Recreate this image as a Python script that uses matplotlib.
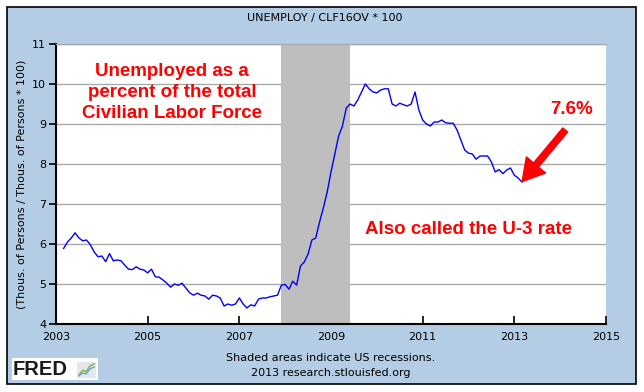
import numpy as np
import matplotlib
matplotlib.use('Agg')
import matplotlib.pyplot as plt
from matplotlib.patches import Rectangle
from matplotlib.lines import Line2D

# 失業率 (UNEMPLOY / CLF16OV * 100) 月次, 2003年3月 - 2013年3月
start_year = 2003
start_month = 3
v2003 = [5.89, 6.05, 6.15, 6.28, 6.15, 6.08, 6.10, 5.98, 5.80, 5.68]
v2004 = [5.70, 5.56, 5.76, 5.58, 5.60, 5.58, 5.47, 5.37, 5.36, 5.43, 5.37, 5.35]
v2005 = [5.28, 5.37, 5.18, 5.17, 5.10, 5.02, 4.92, 5.00, 4.97, 5.02, 4.90, 4.78]
v2006 = [4.72, 4.77, 4.72, 4.70, 4.62, 4.72, 4.70, 4.65, 4.45, 4.50, 4.47, 4.50]
v2007 = [4.65, 4.50, 4.40, 4.48, 4.45, 4.62, 4.65, 4.65, 4.68, 4.70, 4.72, 4.97]
v2008 = [4.99, 4.87, 5.07, 4.97, 5.45, 5.55, 5.75, 6.10, 6.15, 6.55, 6.90, 7.30]
v2009 = [7.80, 8.25, 8.70, 8.95, 9.40, 9.50, 9.45, 9.60, 9.80, 10.00, 9.88, 9.80]
v2010 = [9.78, 9.85, 9.88, 9.88, 9.50, 9.45, 9.52, 9.48, 9.45, 9.50, 9.80, 9.35]
v2011 = [9.10, 9.00, 8.95, 9.05, 9.05, 9.10, 9.03, 9.02, 9.02, 8.85, 8.60, 8.35]
v2012 = [8.27, 8.25, 8.12, 8.20, 8.20, 8.20, 8.05, 7.80, 7.86, 7.76, 7.85, 7.90]
v2013 = [7.72, 7.65, 7.55]
values = v2003 + v2004 + v2005 + v2006 + v2007 + v2008 + v2009 + v2010 + v2011 + v2012 + v2013

# 景気後退期 (2007年12月 - 2009年6月)
rec_start = 2007 + 11 / 12
rec_end = 2009 + 5 / 12

x_ticks = [2003, 2005, 2007, 2009, 2011, 2013, 2015]
y_ticks = [4, 5, 6, 7, 8, 9, 10, 11]

months = np.arange(len(values))
years = start_year + (start_month - 1 + months) / 12

W, H = 644, 392
bg = '#B4CDE4'

fig = plt.figure(figsize=(W / 100, H / 100), dpi=100)
fig.patch.set_facecolor('white')
fig.patches.append(Rectangle((7 / W, 1 - 384 / H), 629 / W, 377 / H,
                             transform=fig.transFigure, facecolor=bg,
                             edgecolor='black', lw=1.2, zorder=-10))

ax = fig.add_axes([56 / W, 1 - 324 / H, 550 / W, 280 / H])
ax.set_zorder(5)
ax.set_facecolor('white')
ax.set_axisbelow(True)
ax.grid(axis='y', color='#AAAAAA', lw=1)
ax.axvspan(rec_start, rec_end, color='#BEBEBE', lw=0, zorder=1)
ax.plot(years, values, color='#0000FF', lw=1.0, zorder=3)

ax.set_xlim(2003, 2015)
ax.set_ylim(4, 11)
ax.set_xticks(x_ticks)
ax.set_yticks(y_ticks)
ax.spines['right'].set_visible(False)
ax.spines['top'].set_color('#AAAAAA')
ax.spines['top'].set_linewidth(1.0)
for s in ['left', 'bottom']:
    ax.spines[s].set_linewidth(1.5)
ax.tick_params(axis='y', direction='out', length=5, width=1.2, pad=2, labelsize=8)
ax.tick_params(axis='x', direction='in', length=6, width=1.2, pad=6, labelsize=8)

# 赤い注釈
red_font = dict(color='#FF0000', fontweight='bold', family='Liberation Sans', fontsize=13.5)
ax.text(2005.53, 9.78, 'Unemployed as a\npercent of the total\nCivilian Labor Force',
        ha='center', va='center', linespacing=1.3, zorder=5, **red_font)
ax.text(2012.01, 6.35, 'Also called the U-3 rate', ha='center', va='center', zorder=5, **red_font)
ax.text(2014.24, 9.35, '7.6%', ha='center', va='center', zorder=5, **red_font)
ax.annotate('', xy=(2013.17, 7.56), xytext=(2014.11, 8.85),
            arrowprops=dict(arrowstyle='simple,head_length=1.3,head_width=1.5,tail_width=0.38',
                            color='#FF0000', mutation_scale=12, shrinkA=0, shrinkB=0),
            zorder=6)

# タイトル・ラベル
fig.text(325 / W, 1 - 18 / H, 'UNEMPLOY / CLF16OV * 100', ha='center', va='center', fontsize=8)
fig.text(22 / W, 1 - 184 / H, '(Thous. of Persons / Thous. of Persons * 100)',
         rotation=90, ha='center', va='center', fontsize=8)
fig.text(331 / W, 1 - 358 / H, 'Shaded areas indicate US recessions.',
         ha='center', va='center', fontsize=8)
fig.text(331 / W, 1 - 373 / H, '2013 research.stlouisfed.org',
         ha='center', va='center', fontsize=8)

# FREDロゴ
fig.patches.append(Rectangle((12 / W, 1 - 380 / H), 86 / W, 22 / H,
                             transform=fig.transFigure, facecolor='white',
                             edgecolor='none', zorder=1))
fig.text(13 / W, 1 - 369.5 / H, 'FRED', ha='left', va='center', fontsize=14.5,
         fontweight='heavy', family='Liberation Sans', color='#1A1A1A', zorder=3)
fig.patches.append(Rectangle((77 / W, 1 - 378 / H), 19 / W, 16 / H,
                             transform=fig.transFigure, facecolor='#E4E8EC',
                             edgecolor='none', zorder=2))
fig.lines.append(Line2D(np.array([79, 83, 86, 90, 94]) / W,
                        1 - np.array([375, 370, 372, 366, 364]) / H,
                        transform=fig.transFigure, color='#8DB85A', lw=1.2, zorder=3))
fig.lines.append(Line2D(np.array([79, 82, 86, 90, 94]) / W,
                        1 - np.array([376, 373, 374, 369, 367]) / H,
                        transform=fig.transFigure, color='#6F9FCF', lw=1.0, zorder=3))

fig.savefig('out.png', dpi=100, facecolor='white')
